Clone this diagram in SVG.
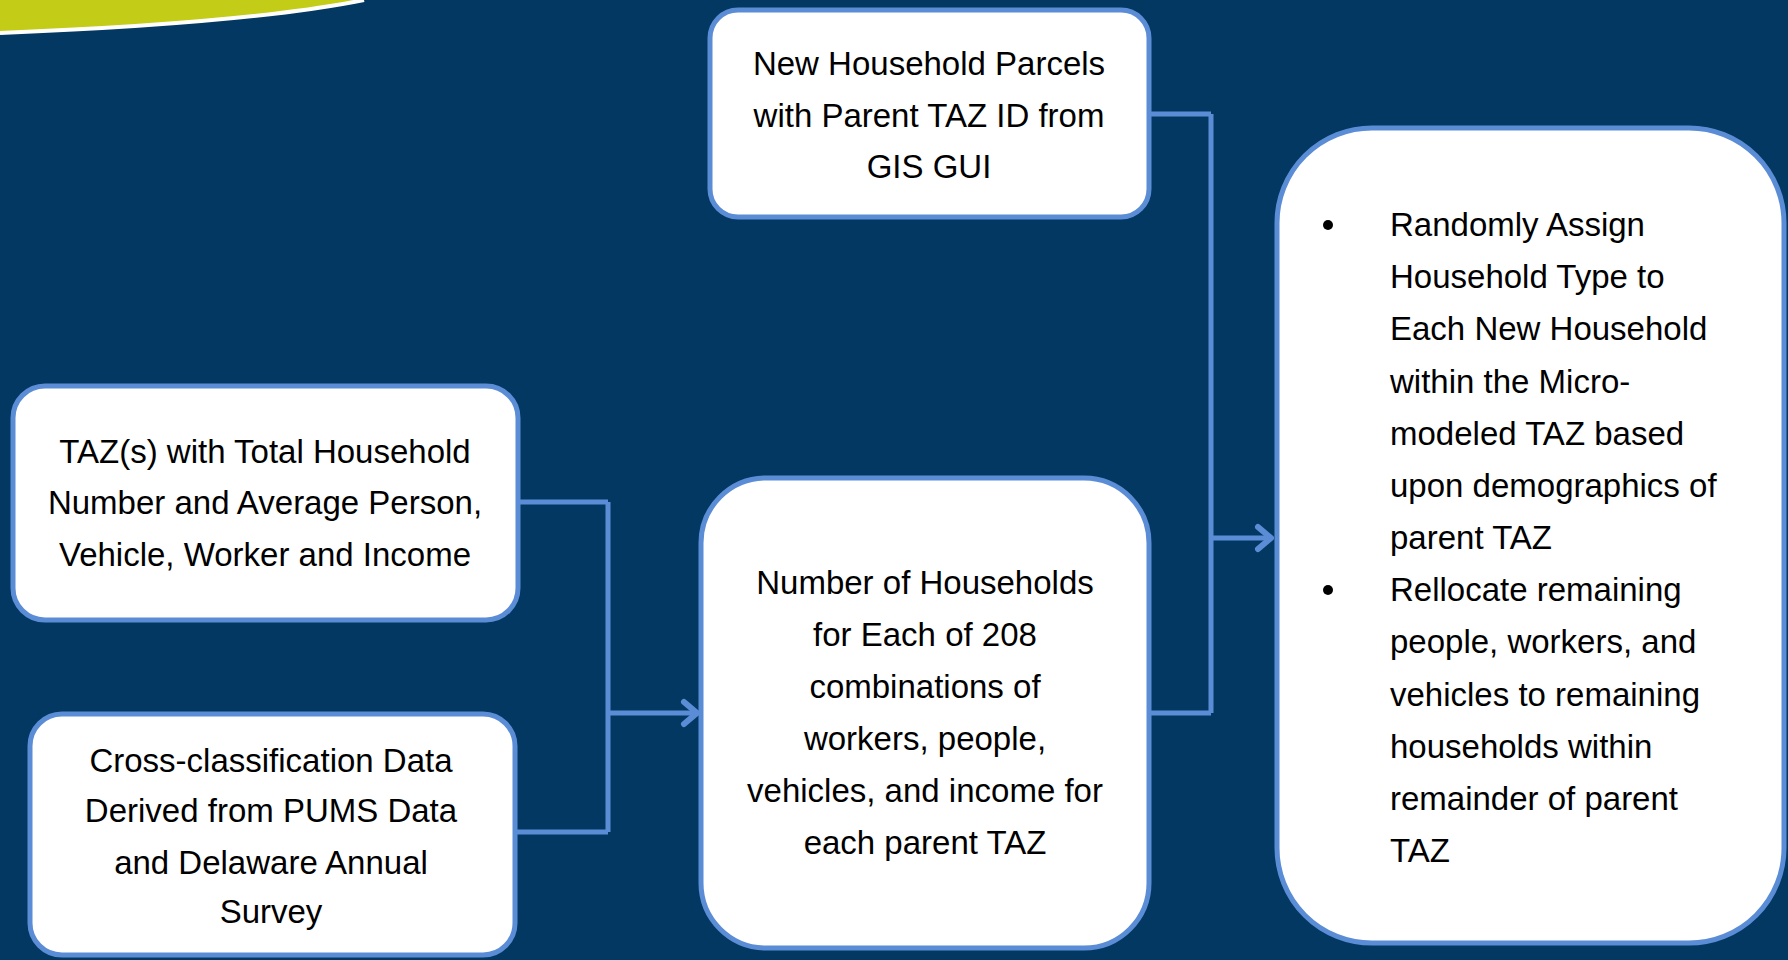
<svg xmlns="http://www.w3.org/2000/svg" width="1788" height="960" viewBox="0 0 1788 960">
<defs>
<style>
.box{fill:#ffffff;stroke:#5B8DD6;stroke-width:5}
.t{font-family:"Liberation Sans",Arial,sans-serif;font-size:33px;fill:#000000;text-anchor:middle}
.l{font-family:"Liberation Sans",Arial,sans-serif;font-size:33px;fill:#000000}
.c{fill:none;stroke:#5B8DD6;stroke-width:5}
.ah{fill:none;stroke:#5B8DD6;stroke-width:6;stroke-linecap:round;stroke-linejoin:round}
</style>
</defs>
<rect x="0" y="0" width="1788" height="960" fill="#033862"/>
<g id="banner">
<path d="M0,0 L364,0 Q250,22 0,32 Z" fill="#C3CC16"/>
<path d="M0,33 Q250,23 364,0" fill="none" stroke="#ffffff" stroke-width="4"/>
</g>
<g id="connectors">
<path class="c" d="M519,502 H608 M515,832 H608 M608,502 V832 M608,713 H696"/>
<path class="ah" d="M684,702 L697,713 L684,724"/>
<path class="c" d="M1149,114 H1211 M1149,713 H1211 M1211,114 V713 M1211,538 H1270"/>
<path class="ah" d="M1258,527 L1271,538 L1258,549"/>
</g>
<g id="node-parcels">
<rect class="box" x="710" y="10" width="439" height="207" rx="28"/>
<text class="t" x="929" y="75">New Household Parcels</text>
<text class="t" x="929" y="127">with Parent TAZ ID from</text>
<text class="t" x="929" y="178">GIS GUI</text>
</g>
<g id="node-taz">
<rect class="box" x="13" y="386" width="505" height="234" rx="32"/>
<text class="t" x="265" y="463">TAZ(s) with Total Household</text>
<text class="t" x="265" y="514">Number and Average Person,</text>
<text class="t" x="265" y="566">Vehicle, Worker and Income</text>
</g>
<g id="node-crossclass">
<rect class="box" x="30" y="714" width="485" height="241" rx="32"/>
<text class="t" x="271" y="772">Cross-classification Data</text>
<text class="t" x="271" y="822">Derived from PUMS Data</text>
<text class="t" x="271" y="874">and Delaware Annual</text>
<text class="t" x="271" y="923">Survey</text>
</g>
<g id="node-households">
<rect class="box" x="701" y="478" width="448" height="470" rx="65"/>
<text class="t" x="925" y="594">Number of Households</text>
<text class="t" x="925" y="646">for Each of 208</text>
<text class="t" x="925" y="698">combinations of</text>
<text class="t" x="925" y="750">workers, people,</text>
<text class="t" x="925" y="802">vehicles, and income for</text>
<text class="t" x="925" y="854">each parent TAZ</text>
</g>
<g id="node-assign">
<rect class="box" x="1277" y="128" width="507" height="815" rx="95"/>
<circle cx="1328" cy="225" r="5" fill="#000000"/>
<circle cx="1328" cy="590" r="5" fill="#000000"/>
<text class="l" x="1390" y="236">Randomly Assign</text>
<text class="l" x="1390" y="288">Household Type to</text>
<text class="l" x="1390" y="340">Each New Household</text>
<text class="l" x="1390" y="393">within the Micro-</text>
<text class="l" x="1390" y="445">modeled TAZ based</text>
<text class="l" x="1390" y="497">upon demographics of</text>
<text class="l" x="1390" y="549">parent TAZ</text>
<text class="l" x="1390" y="601">Rellocate remaining</text>
<text class="l" x="1390" y="653">people, workers, and</text>
<text class="l" x="1390" y="706">vehicles to remaining</text>
<text class="l" x="1390" y="758">households within</text>
<text class="l" x="1390" y="810">remainder of parent</text>
<text class="l" x="1390" y="862">TAZ</text>
</g>
</svg>
